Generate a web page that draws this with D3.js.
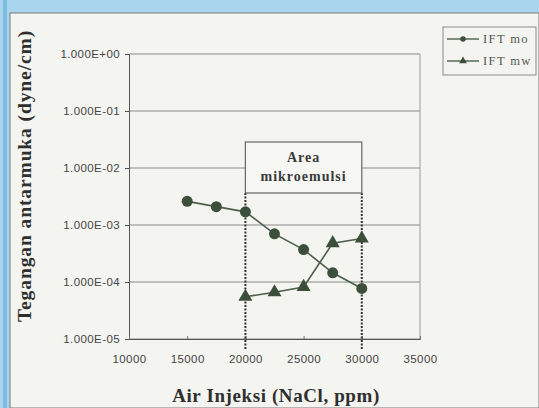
<!DOCTYPE html>
<html><head><meta charset="utf-8">
<script src="https://cdn.jsdelivr.net/npm/d3@7"></script>
<style>html,body{margin:0;padding:0;background:#f4f5f1;}svg{display:block;}</style>
</head><body>
<svg id="c" width="539" height="408"></svg>
<script>
const xValues = [15000, 17500, 20000, 22500, 25000, 27500, 30000];
const iftMo = [2.6e-3, 2.1e-3, 1.7e-3, 7.0e-4, 3.7e-4, 1.45e-4, 7.7e-5];
const xValuesMw = [20000, 22500, 25000, 27500, 30000];
const iftMw = [5.5e-5, 6.6e-5, 8.2e-5, 4.8e-4, 5.8e-4];
const xTicks = [10000, 15000, 20000, 25000, 30000, 35000];
const yTicks = [1, 1e-1, 1e-2, 1e-3, 1e-4, 1e-5];
const yTickLabels = ["1.000E+00", "1.000E-01", "1.000E-02", "1.000E-03", "1.000E-04", "1.000E-05"];
const seriesNames = ["IFT mo", "IFT mw"];
const areaRange = [20000, 30000];
const areaLabel = ["Area", "mikroemulsi"];

const svg = d3.select("#c");
const W = 539, H = 408;
const ink = "#3c4f3a";
const serif = "Liberation Serif, Times New Roman, serif";
const sans = "Liberation Sans, Arial, sans-serif";

// photo background
svg.append("rect").attr("width", W).attr("height", H).attr("fill", "#a9d6ee");
svg.append("rect").attr("x", 3).attr("y", 0).attr("width", 4).attr("height", H).attr("fill", "#7fbde0");
svg.append("rect").attr("x", 10).attr("y", 13).attr("width", W - 10).attr("height", H - 13)
  .attr("fill", "#f4f5f1").attr("stroke", "#7a7a7a").attr("stroke-width", 1);

const x = d3.scaleLinear().domain([10000, 35000]).range([129, 420]);
const y = d3.scaleLog().domain([1e-5, 1]).range([339, 54]);

// plot frame and gridlines
const g = svg.append("g");
g.selectAll("line.grid").data(yTicks).join("line")
  .attr("x1", x(10000)).attr("x2", x(35000))
  .attr("y1", d => y(d)).attr("y2", d => y(d))
  .attr("stroke", "#8a8a8a").attr("stroke-width", 1);
g.append("line").attr("x1", x(35000)).attr("x2", x(35000)).attr("y1", y(1)).attr("y2", y(1e-5))
  .attr("stroke", "#9a9a9a").attr("stroke-width", 1);

// axes
const yAxis = d3.axisLeft(y).tickValues(yTicks).tickSize(4)
  .tickFormat((d, i) => yTickLabels[i]);
const ya = svg.append("g").attr("transform", `translate(${x(10000)},0)`).call(yAxis);
ya.select(".domain").attr("stroke", "#555");
ya.selectAll(".tick line").attr("stroke", "#555");
ya.selectAll(".tick text").attr("font-family", sans)
  .attr("font-size", 11.5).attr("letter-spacing", 0.4).attr("fill", "#444").attr("x", -9);

const xAxis = d3.axisBottom(x).tickValues(xTicks).tickSize(-3).tickFormat(d3.format("d"));
const xa = svg.append("g").attr("transform", `translate(0,${y(1e-5)})`).call(xAxis);
xa.select(".domain").attr("stroke", "#555");
xa.selectAll(".tick line").attr("stroke", "#777");
xa.selectAll(".tick text").attr("font-family", sans)
  .attr("font-size", 11.5).attr("letter-spacing", 0.4).attr("fill", "#444").attr("y", 16);

// microemulsion area: dotted lines and box
svg.selectAll("line.area").data(areaRange).join("line")
  .attr("x1", d => x(d)).attr("x2", d => x(d))
  .attr("y1", 193).attr("y2", 349)
  .attr("stroke", "#333").attr("stroke-width", 2).attr("stroke-dasharray", "2,1.5");
svg.append("rect").attr("x", x(areaRange[0])).attr("y", 142)
  .attr("width", x(areaRange[1]) - x(areaRange[0])).attr("height", 51)
  .attr("fill", "#f6f7f3").attr("stroke", "#666").attr("stroke-width", 1.2);
svg.selectAll("text.area").data(areaLabel).join("text")
  .attr("x", (x(areaRange[0]) + x(areaRange[1])) / 2)
  .attr("y", (d, i) => 162 + i * 19)
  .attr("text-anchor", "middle")
  .attr("font-family", serif)
  .attr("font-size", 14).attr("font-weight", "bold").attr("fill", "#3a3a3a")
  .attr("letter-spacing", 1)
  .text(d => d);

// series
const line = d3.line().x(d => x(d[0])).y(d => y(d[1]));
const moData = xValues.map((v, i) => [v, iftMo[i]]);
const mwData = xValuesMw.map((v, i) => [v, iftMw[i]]);
svg.append("path").datum(moData).attr("d", line).attr("fill", "none").attr("stroke", "#4d5e4b").attr("stroke-width", 1.6);
svg.append("path").datum(mwData).attr("d", line).attr("fill", "none").attr("stroke", "#4d5e4b").attr("stroke-width", 1.6);
const circ = d3.symbol().type(d3.symbolCircle).size(95);
const tri = d3.symbol().type(d3.symbolTriangle).size(85);
svg.selectAll("path.mo").data(moData).join("path")
  .attr("d", circ).attr("transform", d => `translate(${x(d[0])},${y(d[1])})`).attr("fill", ink);
svg.selectAll("path.mw").data(mwData).join("path")
  .attr("d", tri).attr("transform", d => `translate(${x(d[0])},${y(d[1])})`).attr("fill", ink);

// legend
const lg = svg.append("g");
lg.append("rect").attr("x", 443).attr("y", 27).attr("width", 93).attr("height", 48)
  .attr("fill", "#f4f5f1").attr("stroke", "#8a8a8a").attr("stroke-width", 1);
const lgy = [39, 61];
seriesNames.forEach((name, i) => {
  lg.append("line").attr("x1", 447).attr("x2", 479).attr("y1", lgy[i]).attr("y2", lgy[i])
    .attr("stroke", "#4d5e4b").attr("stroke-width", 1.4);
  lg.append("path").attr("d", (i === 0 ? d3.symbol().type(d3.symbolCircle).size(24) : d3.symbol().type(d3.symbolTriangle).size(26))())
    .attr("transform", `translate(463,${lgy[i]})`).attr("fill", ink);
  lg.append("text").attr("x", 483).attr("y", lgy[i] + 4)
    .attr("font-family", serif).attr("font-size", 12.5).attr("letter-spacing", 1.4)
    .attr("fill", "#555").text(name);
});

// axis titles
svg.append("text").attr("x", 276).attr("y", 402).attr("text-anchor", "middle")
  .attr("font-family", serif).attr("font-size", 19)
  .attr("font-weight", "bold").attr("fill", "#2f2f2f").attr("letter-spacing", 0.6)
  .text("Air Injeksi (NaCl, ppm)");
svg.append("text").attr("transform", "translate(31,176) rotate(-90)").attr("text-anchor", "middle")
  .attr("font-family", serif).attr("font-size", 19.5)
  .attr("font-weight", "bold").attr("fill", "#2f2f2f").attr("letter-spacing", 0.9)
  .text("Tegangan antarmuka (dyne/cm)");
</script>
</body></html>
